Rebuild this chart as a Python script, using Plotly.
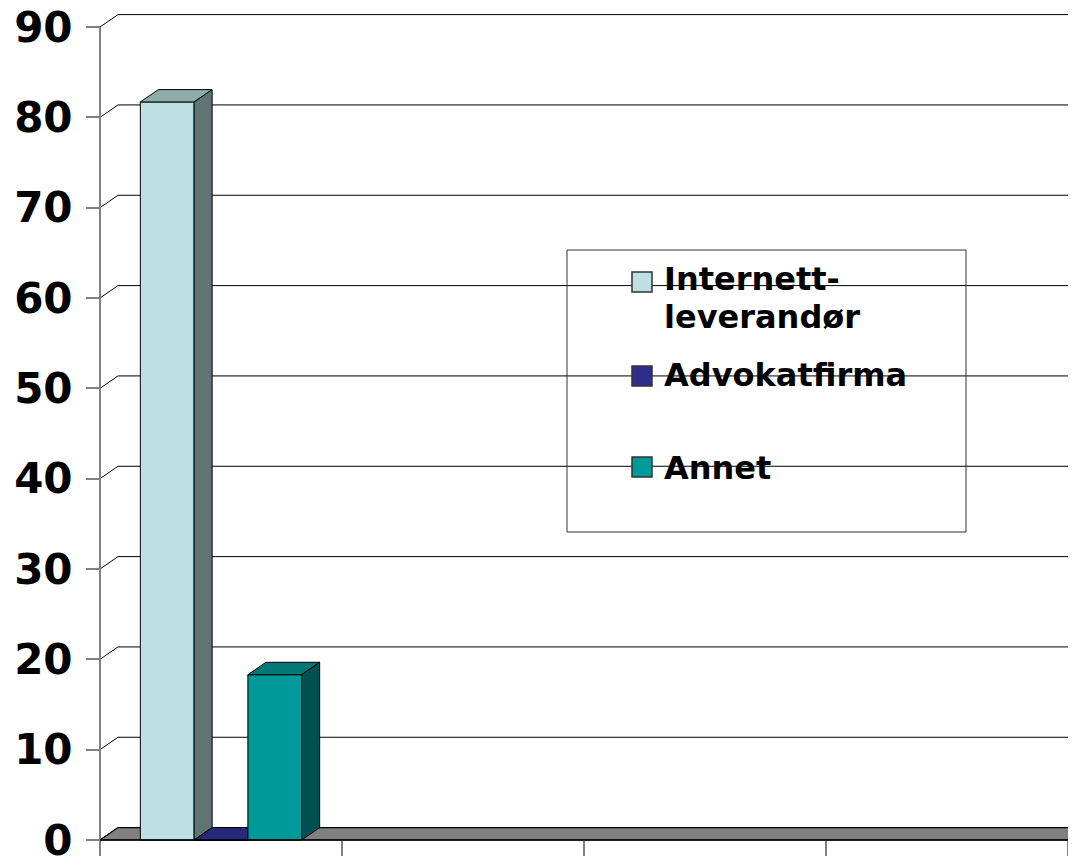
import plotly.graph_objects as go

# ---------------- data ----------------
series_names = ["Internett-leverandør", "Advokatfirma", "Annet"]
series_values = [81.7, 0.0, 18.3]
legend_lines = [["Internett-", "leverandør"], ["Advokatfirma"], ["Annet"]]
y_tick_values = [0, 10, 20, 30, 40, 50, 60, 70, 80, 90]
y_tick_labels = ["0", "10", "20", "30", "40", "50", "60", "70", "80", "90"]
category_slots = [0, 1, 2, 3]          # four category slots, only the first holds data
category_bounds = [0, 1, 2, 3, 4]

# ---------------- style ----------------
front_colors = ["#BCE0E3", "#2D2D8C", "#009999"]
top_colors = ["#8FABAC", "#28287A", "#007878"]
side_colors = ["#607474", "#1E1E5C", "#005252"]
legend_colors = ["#BCE0E3", "#2D2D8C", "#009999"]

PAGE_OFF = 8                 # default body margin of the html page
FIG_W, FIG_H = 1068, 848
ML, MB, MT = 87, 14, 0
PLOT_W, PLOT_H = FIG_W - ML, FIG_H - MB - MT
PX_X = 242.0                 # pixels per category
PX_Y = 813.0 / 90.0          # pixels per value unit
DX = 18.0 / PX_X             # 3-D depth offset (x, data units)
DY = 12.4 / PX_Y             # 3-D depth offset (y, data units)
# window pixel -> data: value 0 at window y=840, category 0 at window x=100
X_MIN, X_MAX = -5.0 / PX_X, (1076 - 100) / PX_X
Y_MIN, Y_MAX = -2.0 / PX_Y, (840 - PAGE_OFF) / PX_Y
GROUP_W = 2.0 / 3.0
BAR_W = GROUP_W / len(series_values)


def px_to_paper_x(px):
    return (px - PAGE_OFF - ML) / PLOT_W


def px_to_paper_y(py):
    return 1 - (py - PAGE_OFF - MT) / PLOT_H


fig = go.Figure()

# back-wall and side-wall gridlines
gx, gy = [], []
for v in y_tick_values:
    gx += [0, DX, X_MAX + 1, None]
    gy += [v, v + DY, v + DY, None]
fig.add_trace(go.Scatter(x=gx, y=gy, mode="lines", line=dict(color="#000000", width=1),
                         hoverinfo="skip", showlegend=False))

# floor
n_cat = len(category_slots)
fig.add_trace(go.Scatter(x=[0, n_cat, n_cat + DX, DX, 0], y=[0, 0, DY, DY, 0],
                         mode="lines", fill="toself", fillcolor="#808080",
                         line=dict(color="#000000", width=1.2),
                         hoverinfo="skip", showlegend=False))

# 3-D columns (category 0)
cat_center = category_slots[0] + 0.5
for i, (name, v) in enumerate(zip(series_names, series_values)):
    x0 = cat_center - GROUP_W / 2 + i * BAR_W
    x1 = x0 + BAR_W
    faces = [
        ([x0, x1, x1, x0, x0], [0, 0, v, v, 0], front_colors[i]),
        ([x0, x1, x1 + DX, x0 + DX, x0], [v, v, v + DY, v + DY, v], top_colors[i]),
        ([x1, x1 + DX, x1 + DX, x1, x1], [0, DY, v + DY, v, 0], side_colors[i]),
    ]
    for fx, fy, col in faces:
        fig.add_trace(go.Scatter(x=fx, y=fy, mode="lines", fill="toself", fillcolor=col,
                                 line=dict(color="#000000", width=1), name=name,
                                 hoverinfo="name", showlegend=False))

# axis lines
fig.add_trace(go.Scatter(x=[0, 0], y=[y_tick_values[0], y_tick_values[-1]], mode="lines",
                         line=dict(color="#808080", width=2), hoverinfo="skip", showlegend=False))
fig.add_trace(go.Scatter(x=[category_bounds[0], category_bounds[-1]], y=[0, 0], mode="lines",
                         line=dict(color="#000000", width=1.5), hoverinfo="skip", showlegend=False))

# ---------------- legend (drawn) ----------------
shapes = [dict(type="rect", xref="paper", yref="paper",
               x0=px_to_paper_x(567), x1=px_to_paper_x(966),
               y0=px_to_paper_y(532), y1=px_to_paper_y(250),
               line=dict(color="#333333", width=1), fillcolor="rgba(0,0,0,0)", layer="above")]
square_centers = [282, 376, 467]
line_centers = [[279, 317], [375], [468]]
annotations = []
for i, lines in enumerate(legend_lines):
    c = square_centers[i]
    shapes.append(dict(type="rect", xref="paper", yref="paper",
                       x0=px_to_paper_x(632), x1=px_to_paper_x(652),
                       y0=px_to_paper_y(c + 10), y1=px_to_paper_y(c - 10),
                       line=dict(color="#333333", width=1.5), fillcolor=legend_colors[i], layer="above"))
    for txt, yc in zip(lines, line_centers[i]):
        annotations.append(dict(text=txt, xref="paper", yref="paper",
                                x=px_to_paper_x(662), y=px_to_paper_y(yc),
                                xanchor="left", yanchor="middle", showarrow=False,
                                font=dict(family="DejaVu Sans", size=32, color="#000000", weight="bold")))

fig.update_layout(
    width=FIG_W, height=FIG_H,
    margin=dict(l=ML, r=0, t=MT, b=MB, autoexpand=False),
    paper_bgcolor="#FFFFFF", plot_bgcolor="#FFFFFF",
    showlegend=False,
    shapes=shapes, annotations=annotations,
    xaxis=dict(range=[X_MIN, X_MAX], showgrid=False, zeroline=False, showline=False,
               automargin=False,
               anchor="free", position=2.0 / PLOT_H,
               tickmode="array", tickvals=category_bounds, ticks="outside",
               ticklen=16, tickwidth=2, tickcolor="#808080", showticklabels=False),
    yaxis=dict(range=[Y_MIN, Y_MAX], showgrid=False, zeroline=False, showline=False,
               automargin=False,
               anchor="free", position=5.0 / PLOT_W,
               tickmode="array", tickvals=y_tick_values, ticktext=y_tick_labels,
               ticks="outside", ticklen=14, tickwidth=2, tickcolor="#808080",
               ticklabelstandoff=5, ticklabeloverflow="allow",
               tickfont=dict(family="DejaVu Sans", size=42, color="#000000", weight="bold")),
)

fig.write_html("out.html")
